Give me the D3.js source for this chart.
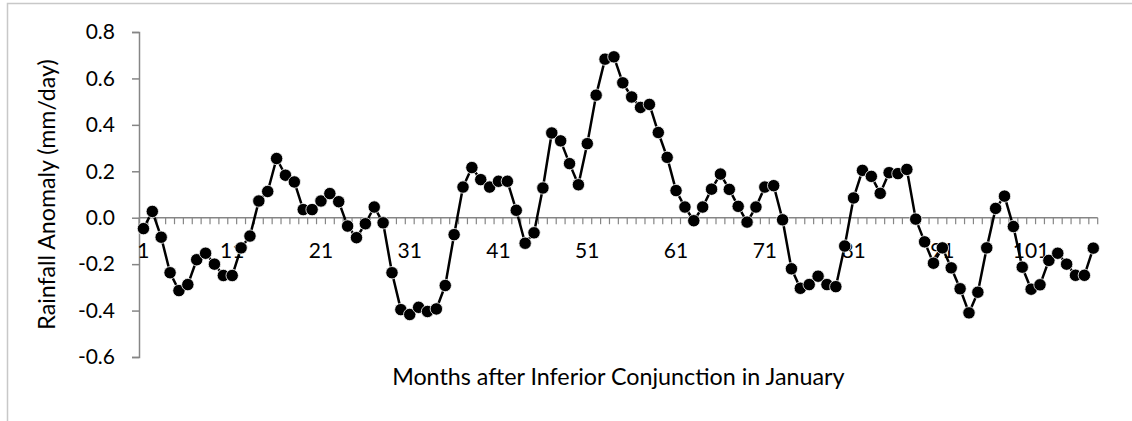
<!DOCTYPE html>
<html>
<head>
<meta charset="utf-8">
<script src="https://cdn.jsdelivr.net/npm/d3@7"></script>
<style>
  html, body { margin: 0; padding: 0; background: #fff; }
  svg { display: block; }
  text { font-family: Lato, "Open Sans", sans-serif; fill: #000; }
</style>
</head>
<body>
<svg id="chart" width="1132" height="421"></svg>
<script>
// Monthly rainfall anomaly (mm/day), months 1..108 after inferior conjunction
const months = d3.range(1, 109);
const anomaly = [
  -0.047, 0.027, -0.084, -0.237, -0.314, -0.288, -0.181, -0.153, -0.200, -0.249,
  -0.249, -0.130, -0.079, 0.072, 0.113, 0.255, 0.183, 0.154, 0.035, 0.035,
  0.072, 0.104, 0.069, -0.036, -0.086, -0.026, 0.046, -0.022, -0.237, -0.396,
  -0.417, -0.386, -0.404, -0.393, -0.292, -0.073, 0.132, 0.216, 0.164, 0.132,
  0.157, 0.157, 0.032, -0.110, -0.065, 0.128, 0.365, 0.331, 0.233, 0.142,
  0.319, 0.528, 0.683, 0.693, 0.581, 0.520, 0.475, 0.488, 0.367, 0.260,
  0.117, 0.046, -0.013, 0.046, 0.123, 0.188, 0.122, 0.049, -0.019, 0.046,
  0.132, 0.138, -0.009, -0.220, -0.304, -0.288, -0.252, -0.288, -0.297, -0.122,
  0.085, 0.204, 0.178, 0.105, 0.194, 0.190, 0.208, -0.006, -0.104, -0.196,
  -0.130, -0.216, -0.306, -0.410, -0.321, -0.130, 0.040, 0.093, -0.038, -0.213,
  -0.308, -0.289, -0.184, -0.153, -0.200, -0.248, -0.248, -0.131
];
const yTicks = [-0.6, -0.4, -0.2, 0.0, 0.2, 0.4, 0.6, 0.8];
const xTickLabels = [1, 11, 21, 31, 41, 51, 61, 71, 81, 91, 101];
const xTitle = "Months after Inferior Conjunction in January";
const yTitle = "Rainfall Anomaly (mm/day)";

const svg = d3.select("#chart");
const plot = { left: 139, right: 1097.7, top: 32, bottom: 357 };
const axisColor = "#868686";

// outer chart frame (runs off the right and bottom edges)
svg.append("rect")
  .attr("x", 7.5).attr("y", 3.5)
  .attr("width", 1140).attr("height", 430)
  .attr("fill", "none").attr("stroke", "#c8c8c8").attr("stroke-width", 1.5);

const x = d3.scaleBand().domain(months).range([plot.left, plot.right]).paddingInner(0).paddingOuter(0);
const cx = m => x(m) + x.bandwidth() / 2;
const y = d3.scaleLinear().domain([-0.6, 0.8]).range([plot.bottom, plot.top]);

const fmt = v => (v < 0 ? "-" : "") + Math.abs(v).toFixed(1);

// y axis
const yAxis = d3.axisLeft(y).tickValues(yTicks).tickFormat(fmt).tickSize(7).tickPadding(17);
const gy = svg.append("g").attr("transform", `translate(${plot.left},0)`).call(yAxis);
gy.select(".domain").attr("stroke", axisColor).attr("stroke-width", 1.5);
gy.selectAll(".tick line").attr("stroke", axisColor).attr("stroke-width", 1.5);
gy.selectAll(".tick text").style("font-size", "21px");

// x axis drawn along y = 0, tick marks at category boundaries
const y0 = y(0);
const gx = svg.append("g").attr("class", "x-axis");
gx.append("line")
  .attr("x1", plot.left).attr("x2", plot.right)
  .attr("y1", y0).attr("y2", y0)
  .attr("stroke", axisColor).attr("stroke-width", 1.5);
const boundaries = months.map(m => x(m)).concat([x(months[months.length - 1]) + x.bandwidth()]);
gx.selectAll("line.tk").data(boundaries).join("line")
  .attr("class", "tk")
  .attr("x1", d => d).attr("x2", d => d)
  .attr("y1", y0).attr("y2", y0 + 6.5)
  .attr("stroke", axisColor).attr("stroke-width", 1.2);
gx.selectAll("text").data(xTickLabels).join("text")
  .attr("x", d => cx(d)).attr("y", y0 + 40)
  .attr("text-anchor", "middle")
  .style("font-size", "21px")
  .text(d => d);

// axis titles
svg.append("text")
  .attr("x", (plot.left + plot.right) / 2).attr("y", 385)
  .attr("text-anchor", "middle").style("font-size", "23.3px")
  .text(xTitle);
svg.append("text")
  .attr("transform", `translate(55,${(plot.top + plot.bottom) / 2}) rotate(-90)`)
  .attr("text-anchor", "middle").style("font-size", "23.2px")
  .text(yTitle);

// series line and markers
const pts = months.map((m, i) => [cx(m), y(anomaly[i])]);
svg.append("path")
  .attr("d", d3.line()(pts))
  .attr("fill", "none").attr("stroke", "#000").attr("stroke-width", 2.5)
  .attr("stroke-linejoin", "round");
svg.append("g").selectAll("circle").data(pts).join("circle")
  .attr("cx", d => d[0]).attr("cy", d => d[1]).attr("r", 6.2)
  .attr("fill", "#000").attr("stroke", "#fff").attr("stroke-width", 0.8);
</script>
</body>
</html>
